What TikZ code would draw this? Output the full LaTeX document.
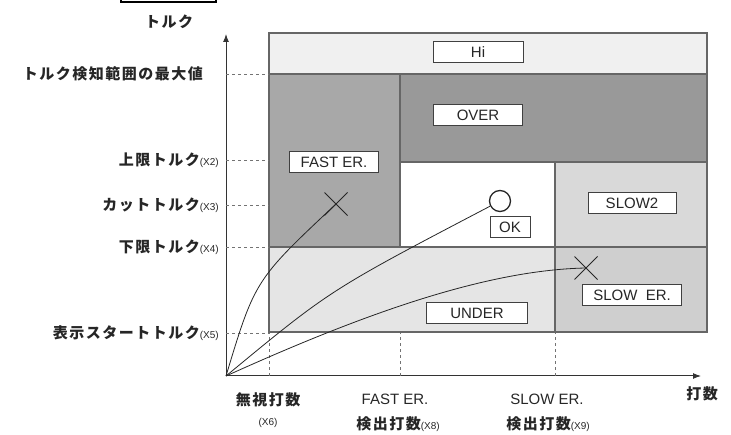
\documentclass[tikz,border=0pt]{standalone}
\usepackage{fontspec}
\setsansfont{Liberation Sans}
\newfontfamily\jpfont[LetterSpace=10]{Noto Sans CJK JP}
\usetikzlibrary{positioning,shapes.misc,arrows.meta}

\newcommand{\torqno}[1]{{\sffamily\mdseries\fontsize{10}{10}\selectfont(X#1)}}

\tikzset{
    region/.style={draw=black!60, line width=1.1pt},
    guide/.style={draw=black!55, dash pattern=on 3pt off 3pt, line width=0.9pt},
    tag/.style={draw=black!75, fill=white, text=black!85, line width=0.8pt,
        font=\sffamily\fontsize{15}{15}\selectfont, minimum height=21pt, inner sep=0pt},
    jplabel/.style={text=black!85, inner sep=0pt, font=\jpfont\bfseries\fontsize{15}{15}\selectfont},
    ylabel/.style={jplabel, anchor=east},
    sflabel/.style={text=black!85, inner sep=0pt, font=\sffamily\fontsize{15}{15}\selectfont},
    smalllabel/.style={text=black!85, inner sep=0pt, font=\sffamily\fontsize{10}{10}\selectfont},
    xmark/.style={cross out, draw=black!85, line width=1pt, minimum size=22pt, inner sep=0pt},
    curve/.style={draw=black!85, line width=0.8pt},
    axis/.style={draw=black!80, line width=1pt, -{Latex[length=8pt,width=6pt]}}
}

\begin{document}
\begin{tikzpicture}[x=1pt, y=-1pt]
    \useasboundingbox (0,0) rectangle (731,435);

    % cut-off frame at the top
    \draw[line width=1.5pt] (121,0) -- (121,2) -- (216,2) -- (216,0);

    % regions
    \fill[black!6]  (269,33)  rectangle (707,74);   % Hi
    \fill[black!34] (269,74)  rectangle (400,247);  % FAST ER.
    \fill[black!40] (400,74)  rectangle (707,162);  % OVER
    \fill[black!15] (555,162) rectangle (707,247);  % SLOW2
    \fill[black!10] (269,247) rectangle (555,332);  % UNDER
    \fill[black!19] (555,247) rectangle (707,332);  % SLOW ER.

    \draw[region] (269,33) rectangle (707,332);
    \draw[region] (269,74) -- (707,74);
    \draw[region] (400,74) -- (400,247);
    \draw[region] (400,162) -- (707,162);
    \draw[region] (555,162) -- (555,332);
    \draw[region] (269,247) -- (707,247);

    % axes
    \coordinate (origin) at (226,376);
    \coordinate (ytip) at (226,34);
    \coordinate (xtip) at (701,376);
    \coordinate (edge) at (269,0);
    \draw[axis] (origin) -- (ytip);
    \draw[axis] (origin) -- (xtip);

    % torque levels
    \coordinate (tmax) at (226,74);
    \coordinate (tup) at (226,160);
    \coordinate (tcut) at (226,205);
    \coordinate (tlow) at (226,247);
    \coordinate (tstart) at (226,333);
    \draw[guide] (tmax) -- (tmax -| edge);
    \draw[guide] (tup) -- (tup -| edge);
    \draw[guide] (tcut) -- (tcut -| edge);
    \draw[guide] (tlow) -- (tlow -| edge);
    \draw[guide] (tstart) -- (tstart -| edge);

    % count levels
    \coordinate (n6) at (269,376);
    \coordinate (n6top) at (269,333);
    \coordinate (n8) at (400,376);
    \coordinate (n8top) at (400,333);
    \coordinate (n9) at (555,376);
    \coordinate (n9top) at (555,333);
    \draw[guide] (n6) -- (n6top);
    \draw[guide] (n8) -- (n8top);
    \draw[guide] (n9) -- (n9top);

    % region tags
    \node[tag, minimum width=90pt] (hi) at (478,52) {Hi};
    \node[tag, minimum width=89pt] (over) at (478,115) {OVER};
    \node[tag, minimum width=89pt] (fast) at (334,162) {FAST ER.};
    \node[tag, minimum width=40pt] (ok) at (510,227) {OK};
    \node[tag, minimum width=88pt] (slowtwo) at (632,203) {SLOW2};
    \node[tag, minimum width=101pt] (under) at (477,313) {UNDER};
    \node[tag, minimum width=99pt] (slower) at (632,295) {SLOW\ \ ER.};

    % torque curves
    \node[xmark] (fastx) at (336,204) {};
    \node[circle, draw=black!85, line width=1.3pt, minimum size=21pt, inner sep=0pt] (okmark) at (500,201) {};
    \node[xmark] (slowx) at (586,268) {};
    \draw[curve] (origin) .. controls (255,280) .. (fastx.center);
    \draw[curve] (origin) .. controls (330,290) .. (okmark);
    \draw[curve] (origin) .. controls (350,320) and (480,270) .. (slowx.center);

    % axis labels
    \node[jplabel] (ytitle) at (169,22) {トルク};
    \node[ylabel] (lmax) at (203,74) {トルク検知範囲の最大値};
    \node[ylabel] (lup) at (219,160) {上限トルク\torqno{2}};
    \node[ylabel] (lcut) at (219,205) {カットトルク\torqno{3}};
    \node[ylabel] (llow) at (219,247) {下限トルク\torqno{4}};
    \node[ylabel] (lstart) at (219,333) {表示スタートトルク\torqno{5}};

    \node[jplabel] (xtitle) at (702,394) {打数};
    \node[jplabel] (l6) at (268,400) {無視打数};
    \node[smalllabel] (l6no) at (268,423) {(X6)};
    \node[sflabel] (l8top) at (395,399) {FAST ER.};
    \node[jplabel] (l8) at (398,424) {検出打数\torqno{8}};
    \node[sflabel] (l9top) at (547,399) {SLOW ER.};
    \node[jplabel] (l9) at (548,424) {検出打数\torqno{9}};
\end{tikzpicture}
\end{document}
